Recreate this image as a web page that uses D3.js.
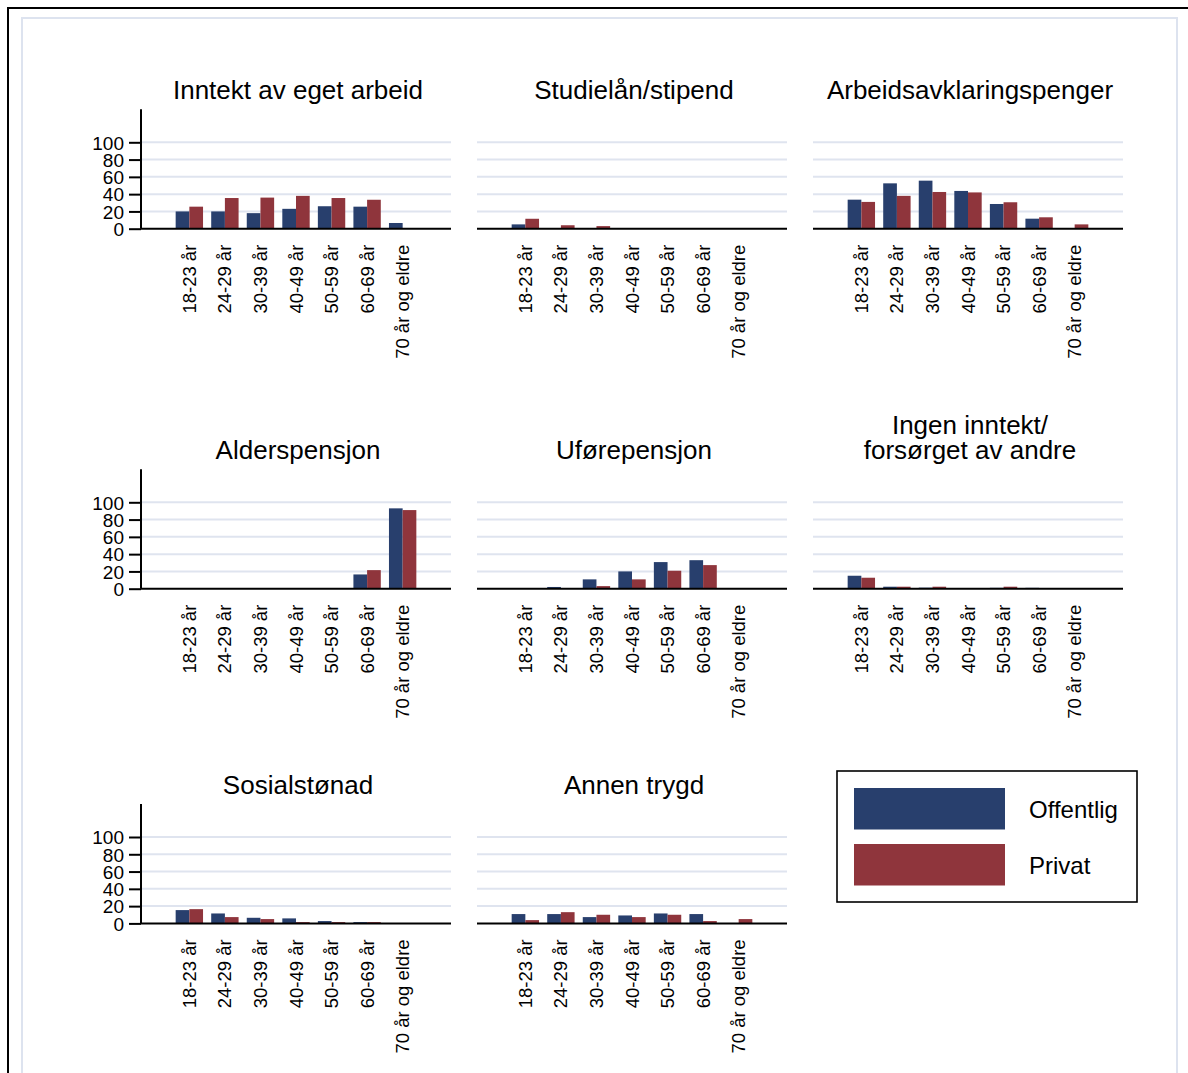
<!DOCTYPE html>
<html><head><meta charset="utf-8">
<script src="https://cdn.jsdelivr.net/npm/d3@7"></script>
<style>body{margin:0;background:#fff}svg{display:block;font-family:"Liberation Sans",Arial,sans-serif}</style>
</head><body>
<svg id="c" width="1188" height="1073"></svg>
<script>
const categories = ["18-23 år","24-29 år","30-39 år","40-49 år","50-59 år","60-69 år","70 år og eldre"];
const panelTitles = [["Inntekt av eget arbeid"],["Studielån/stipend"],["Arbeidsavklaringspenger"],["Alderspensjon"],["Uførepensjon"],["Ingen inntekt/","forsørget av andre"],["Sosialstønad"],["Annen trygd"]];
const seriesNames = ["Offentlig","Privat"];
const offentlig = [
  [20, 20, 18, 23, 26, 25.5, 6.6],
  [5, 0.5, 0.3, 0.3, 0, 0, 0],
  [33.6, 52.5, 55.6, 43.7, 28.6, 11.6, 0],
  [0, 0, 0, 0, 0, 16.5, 93],
  [0.8, 2, 10.8, 20, 30.8, 33, 0],
  [15, 2.3, 1.2, 0.3, 1, 1, 0],
  [15.4, 11.5, 6.5, 5.8, 2.7, 1.5, 0],
  [10.8, 10.8, 7.3, 9.2, 11.5, 10.8, 0]
];
const privat = [
  [25.5, 35.5, 36, 38, 35.5, 33.5, 0],
  [11.5, 4, 3, 0.5, 0, 0, 0],
  [31, 38, 42.5, 42, 30.6, 13.2, 5],
  [0, 0, 0, 0, 0, 21.5, 91],
  [0, 0, 3, 10.8, 20.8, 27.3, 0],
  [12.7, 2.3, 2.3, 0.3, 2.3, 0.3, 0],
  [16.5, 7.3, 5, 1.5, 1.5, 1.5, 0],
  [3.8, 13, 10, 7.3, 10, 2.7, 5]
];
const yTicks = [0, 20, 40, 60, 80, 100];
const colors = ["#283f6d", "#8f353c"];

const svg = d3.select("#c");
svg.append("rect").attr("x",8).attr("y",8).attr("width",1300).attr("height",1200)
  .attr("fill","none").attr("stroke","#000").attr("stroke-width",2);
svg.append("rect").attr("x",22).attr("y",18).attr("width",1155).attr("height",1200)
  .attr("fill","none").attr("stroke","#dde3ef").attr("stroke-width",2);

const colX = [141, 477, 813], rowY = [109.3, 469.3, 804];
const W = 310, H = 119.4;
const x = d3.scalePoint().domain(categories).range([0, W]).padding(1.36);
const y = d3.scaleLinear().domain([0, 138.2]).range([H, 0]);
const step = x.step(), bw = step * 0.385;

panelTitles.forEach((title, i) => {
  const c = i % 3, r = Math.floor(i / 3);
  const g = svg.append("g").attr("transform", `translate(${colX[c]},${rowY[r]})`);
  g.selectAll("line.grid").data(yTicks.filter(t => t > 0)).join("line")
    .attr("x1", 0).attr("x2", W).attr("y1", d => y(d)).attr("y2", d => y(d))
    .attr("stroke", "#dfe4ef").attr("stroke-width", 2);
  const data = categories.map((cat, k) => ({cat, v: [offentlig[i][k], privat[i][k]]}));
  [0, 1].forEach(s => {
    g.selectAll("rect.s" + s).data(data).join("rect")
      .attr("x", d => x(d.cat) - bw + s * bw).attr("width", bw)
      .attr("y", d => y(d.v[s])).attr("height", d => y(0) - y(d.v[s]))
      .attr("fill", colors[s]);
  });
  g.append("line").attr("x1", 0).attr("x2", W).attr("y1", y(0)).attr("y2", y(0))
    .attr("stroke", "#000").attr("stroke-width", 2);
  g.selectAll("text.xl").data(categories).join("text")
    .attr("transform", d => `translate(${x(d) + 6.5},${y(0) + 16}) rotate(-90)`)
    .attr("text-anchor", "end").attr("font-size", 18.5).text(d => d);
  if (c === 0) {
    const ya = g.append("g").call(d3.axisLeft(y).tickValues(yTicks).tickSize(12).tickPadding(5));
    ya.select(".domain").attr("stroke-width", 2).attr("d", `M0,${H}V0`);
    ya.selectAll(".tick line").attr("stroke-width", 2);
    ya.selectAll(".tick text").attr("font-size", 19).attr("font-family", "Liberation Sans, Arial, sans-serif").attr("dy", "0.36em");
  }
  const cx = W / 2 + 2;
  title.forEach((t, j) => {
    g.append("text").attr("x", cx).attr("y", -10.5 - (title.length - 1 - j) * 25)
      .attr("text-anchor", "middle").attr("font-size", 26).text(t);
  });
});

const lg = svg.append("g");
lg.append("rect").attr("x", 837).attr("y", 771).attr("width", 300).attr("height", 131)
  .attr("fill", "#fff").attr("stroke", "#000").attr("stroke-width", 1.6);
seriesNames.forEach((n, s) => {
  lg.append("rect").attr("x", 854).attr("y", 788 + s * 56).attr("width", 151).attr("height", 41.5).attr("fill", colors[s]);
  lg.append("text").attr("x", 1029).attr("y", 818 + s * 56).attr("font-size", 24).text(n);
});
</script>
</body></html>
